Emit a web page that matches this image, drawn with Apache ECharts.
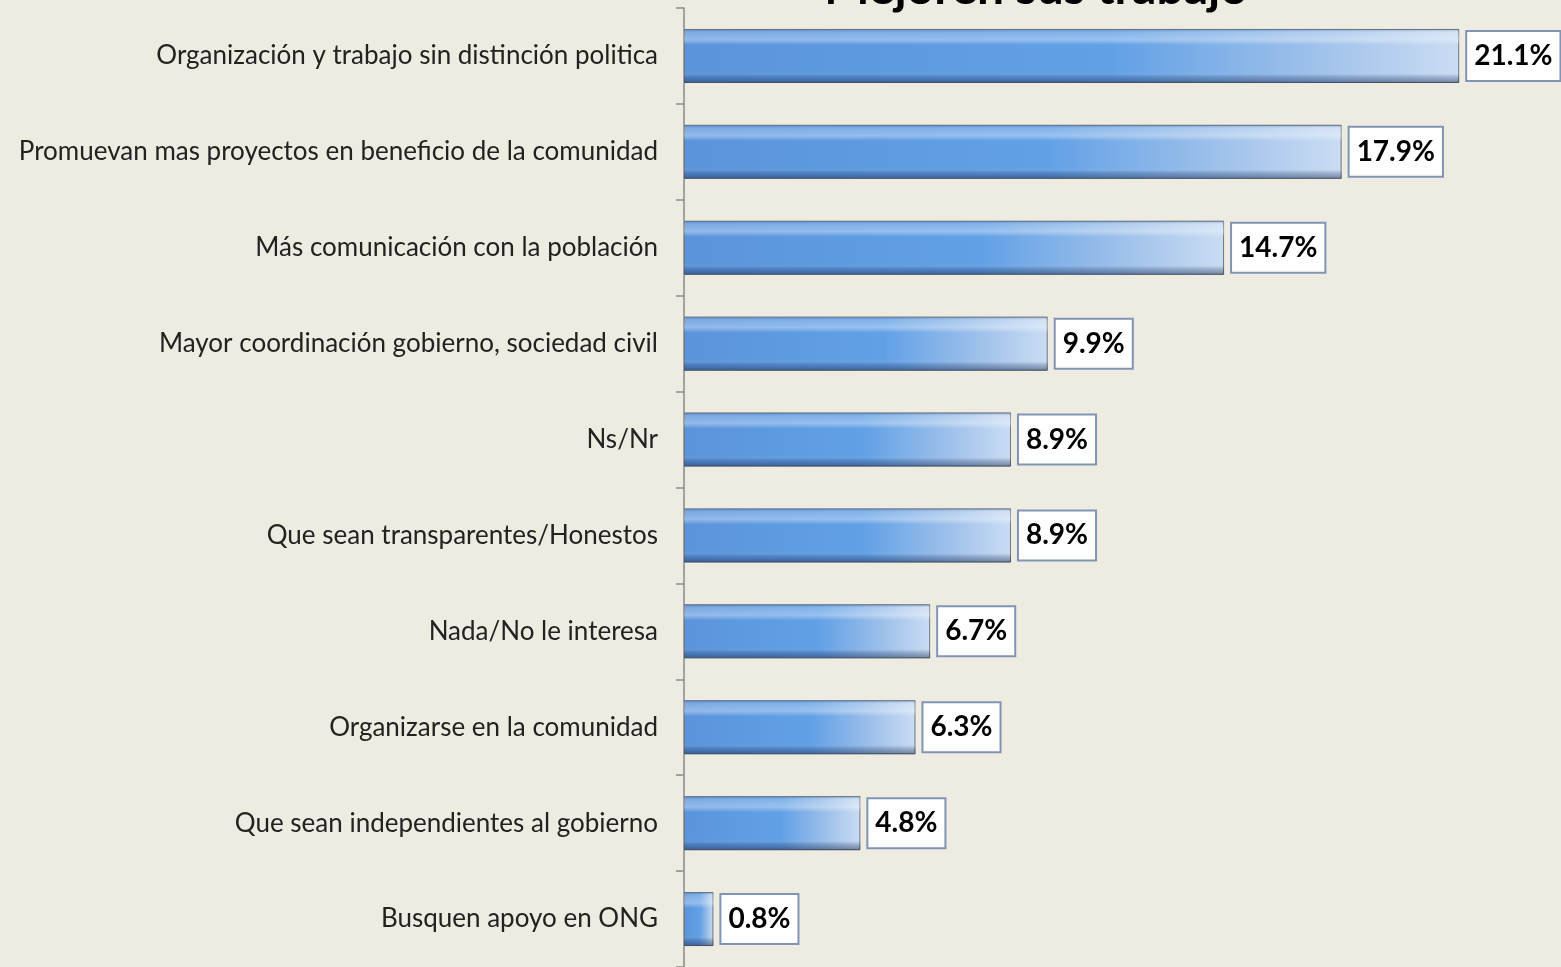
<!DOCTYPE html>
<html><head><meta charset="utf-8">
<script src="https://cdn.jsdelivr.net/npm/echarts@6/dist/echarts.min.js"></script>
<style>html,body{margin:0;padding:0;background:#eeebe1}#c{width:1561px;height:967px}</style>
</head><body><div id="c"></div>
<script>
const categories = [
  "Organización y trabajo sin distinción politica",
  "Promuevan mas proyectos en beneficio de la comunidad",
  "Más comunicación con la población",
  "Mayor coordinación gobierno, sociedad civil",
  "Ns/Nr",
  "Que sean transparentes/Honestos",
  "Nada/No le interesa",
  "Organizarse en la comunidad",
  "Que sean independientes al gobierno",
  "Busquen apoyo en ONG"
];
const values = [21.1, 17.9, 14.7, 9.9, 8.9, 8.9, 6.7, 6.3, 4.8, 0.8];
const titleText = "Mejoren sus trabajo";

const chart = echarts.init(document.getElementById('c'));
chart.setOption({
  backgroundColor: '#eeebe1',
  animation: false,
  title: {
    text: titleText, left: 1031, top: -40, textAlign: 'center',
    textStyle: {fontFamily: 'Lato', fontWeight: 'bold', fontSize: 48, color: '#000'}
  },
  grid: {left: 684, top: 8, width: 845, bottom: -3, containLabel: false},
  xAxis: {type: 'value', min: 0, max: 23, show: false},
  yAxis: {
    type: 'category', data: categories, inverse: true,
    axisLine: {show: true, lineStyle: {color: '#8a8a8a', width: 1.5}},
    axisTick: {show: true, length: 8, lineStyle: {color: '#8a8a8a', width: 1.5}},
    axisLabel: {margin: 26, fontFamily: 'Lato', fontSize: 26, color: '#222'}
  },
  series: [
    {
      type: 'bar', data: values, barWidth: 54, z: 2,
      itemStyle: {
        borderColor: '#6a7685', borderWidth: 1,
        color: new echarts.graphic.LinearGradient(0, 0, 1, 0, [
          {offset: 0, color: '#5a94dc'},
          {offset: 0.55, color: '#62a0e6'},
          {offset: 0.8, color: '#9bbfea'},
          {offset: 1, color: '#cadcf3'}
        ])
      }
    },
    {
      type: 'bar', data: values, barWidth: 54, barGap: '-100%', z: 3,
      itemStyle: {
        color: new echarts.graphic.LinearGradient(0, 0, 0, 1, [
          {offset: 0, color: 'rgba(40,70,120,0.3)'},
          {offset: 0.06, color: 'rgba(255,255,255,0.2)'},
          {offset: 0.2, color: 'rgba(255,255,255,0.35)'},
          {offset: 0.3, color: 'rgba(255,255,255,0.0)'},
          {offset: 0.8, color: 'rgba(255,255,255,0.0)'},
          {offset: 0.88, color: 'rgba(30,50,90,0.2)'},
          {offset: 1, color: 'rgba(20,35,70,0.5)'}
        ])
      },
      label: {
        show: true, position: 'right', distance: 8,
        formatter: p => p.value.toFixed(1) + '%',
        backgroundColor: '#ffffff', borderColor: '#7f95b5', borderWidth: 2,
        padding: [13, 7, 7, 7],
        fontFamily: 'Lato', fontWeight: 'bold', fontSize: 28, color: '#000'
      }
    }
  ]
});
</script></body></html>
